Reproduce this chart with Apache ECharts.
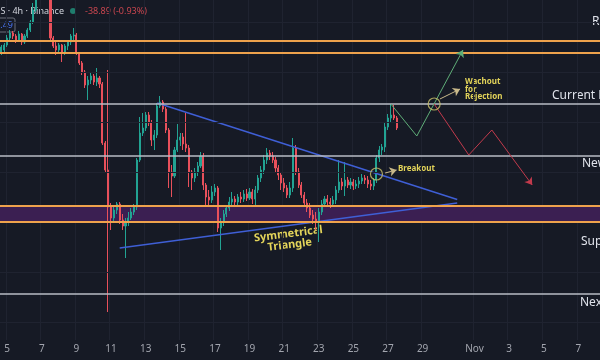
<!DOCTYPE html>
<html><head><meta charset="utf-8">
<script src="https://cdn.jsdelivr.net/npm/echarts@6/dist/echarts.min.js"></script>
<style>html,body{margin:0;padding:0;background:#161a25;}#chart{width:600px;height:360px;}</style>
</head><body><div id="chart"></div>
<script>
// ---- data (4h candles) ----
const opens = [4476,4488,4508,4536,4556,4544,4528,4552,4520,4544,
4568,4600,4648,4728,4788,4768,4808,4748,4536,4504,
4488,4508,4480,4504,4520,4544,4548,4476,4436,4400,
4348,4368,4384,4360,4376,4352,4116,4008,3860,3816,
3848,3872,3808,3784,3800,3816,3840,3860,4048,4156,
4176,4228,4196,4128,4148,4264,4280,4252,4168,4000,
3984,4088,4128,4140,4112,4096,4000,3976,4000,4024,
4064,3948,3900,3888,3920,3936,3776,3800,3832,3856,
3880,3892,3880,3900,3892,3912,3896,3920,3892,3928,
3976,4008,4048,4076,4064,4048,4016,3988,3956,3936,
3908,3936,4096,4000,3948,3908,3876,3856,3828,3812,
3800,3840,3872,3892,3880,3872,3888,3928,3960,3944,
3968,3948,3960,3944,3952,3964,3976,3968,3952,3944,
3968,4056,4088,4100,4180,4216,4228,4216];
const closes = [4500,4508,4536,4556,4544,4528,4552,4520,4544,4568,
4600,4648,4728,4788,4768,4808,4748,4536,4504,4488,
4508,4480,4504,4520,4544,4548,4476,4436,4400,4348,
4368,4384,4360,4376,4352,4116,4008,3860,3816,3848,
3872,3808,3784,3800,3816,3840,3860,4048,4156,4176,
4228,4196,4128,4148,4264,4280,4252,4168,4000,3984,
4088,4128,4140,4112,4096,4000,3976,4000,4024,4064,
3948,3900,3888,3920,3936,3776,3800,3832,3856,3880,
3892,3880,3900,3892,3912,3896,3920,3892,3928,3976,
4008,4048,4076,4064,4048,4016,3988,3956,3936,3908,
3936,4096,4000,3948,3908,3876,3856,3828,3812,3800,
3840,3872,3892,3880,3872,3888,3928,3960,3944,3968,
3948,3960,3944,3952,3964,3976,3968,3952,3944,3968,
4056,4088,4100,4180,4216,4228,4216,4176];
const highs = [4508,4516,4548,4568,4564,4552,4564,4556,4552,4576,
4608,4676,4768,4828,4848,4868,4848,4768,4544,4520,
4516,4512,4512,4528,4552,4576,4556,4480,4444,4408,
4384,4400,4392,4416,4384,4360,4124,4408,3876,3864,
3880,3880,3832,3816,3840,3856,3872,4056,4220,4236,
4240,4240,4208,4168,4276,4304,4288,4260,4176,4028,
4100,4192,4156,4156,4236,4108,4008,4016,4040,4080,
4076,3956,3928,3944,3952,3944,3816,3848,3868,3900,
3920,3904,3912,3920,3928,3932,3936,3932,3944,3988,
4024,4068,4096,4088,4080,4060,4028,4000,3976,3948,
3960,4136,4108,4016,3960,3920,3892,3876,3848,3840,
3856,3888,3904,3908,3896,3904,3944,4048,3976,4040,
3980,3976,3972,3968,3980,3992,3988,3984,3968,3976,
4068,4104,4112,4196,4232,4272,4268,4224];
const lows = [4468,4480,4500,4528,4532,4516,4520,4508,4512,4536,
4560,4592,4640,4708,4728,4736,4708,4528,4496,4468,
4472,4440,4468,4488,4508,4528,4468,4428,4388,4336,
4288,4352,4348,4344,4336,4108,4000,3440,3768,3800,
3832,3792,3768,3656,3784,3808,3828,3848,4040,4144,
4164,4184,4104,4088,4136,4256,4240,4156,3936,3900,
3976,4080,4104,4088,4080,3940,3928,3960,3984,4016,
3928,3868,3864,3876,3904,3760,3688,3784,3820,3844,
3868,3864,3868,3876,3880,3884,3888,3872,3860,3916,
3960,3992,4032,4048,4036,4000,3968,3928,3920,3896,
3896,3920,3988,3936,3896,3864,3840,3816,3792,3768,
3720,3828,3860,3864,3856,3864,3872,3916,3928,3904,
3936,3932,3928,3932,3936,3952,3952,3936,3928,3928,
3956,4040,4068,4080,4168,4200,4208,4168];

// key levels
const resistanceLines = [4524, 4476];
const currentResistance = 4272;
const newSupport = 4064;
const supportZone = [3800, 3864];
const nextSupport = 3512;
const gridPrices = [3400,3600,3800,4000,4200,4400,4600];

// triangle & projections: [candle index, price]
const triUpper = [[54, 4276], [158, 3890]];
const triLower = [[41, 3696], [158, 3876]];
const bullPath = [[135, 4272], [144, 4144], [160, 4488]];
const bearPath = [[150, 4272], [162, 4068], [170, 4168], [184, 3948]];
const circles = [[130, 3992], [150, 4272]];
const watchArrow = [[152, 4292], [159, 4332]];
const breakArrow = [[133, 3996], [137, 4008]];

// time axis
const tickDates = ['10-05','10-07','10-09','10-11','10-13','10-15','10-17','10-19','10-21','10-23','10-25','10-27','10-29','11-01','11-03','11-05','11-07'];
const tickText  = ['5','7','9','11','13','15','17','19','21','23','25','27','29','Nov','3','5','7'];
const nSlots = 208;
const categories = [];
const t0 = Date.UTC(2025, 9, 4, 16);
for (let i = 0; i < nSlots; i++) {
  const d = new Date(t0 + i * 4 * 3600 * 1000);
  const p = n => String(n).padStart(2, '0');
  categories.push(p(d.getUTCMonth() + 1) + '-' + p(d.getUTCDate()) + ' ' + p(d.getUTCHours()) + ':00');
}
const isTick = (idx, val) => val.endsWith('00:00') && tickDates.indexOf(val.slice(0, 5)) >= 0;

const candles = opens.map((o, i) => [o, closes[i], lows[i], highs[i]]);

const up = '#22a393', down = '#e8505b';
const chart = echarts.init(document.getElementById('chart'));

function seg(points, color, width, arrow) {
  const out = [];
  for (let i = 0; i < points.length - 1; i++) {
    const last = i === points.length - 2;
    const ls = { color: color, width: width, type: 'solid' };
    out.push([
      { coord: points[i], symbol: 'none', lineStyle: ls },
      { coord: points[i + 1], symbol: (last && arrow) ? 'arrow' : 'none', lineStyle: ls }
    ]);
  }
  return out;
}

const font = 'Noto Sans';
const option = {
  backgroundColor: '#161a25',
  animation: false,
  textStyle: { fontFamily: font },
  grid: { left: 0, right: 0, top: 0, bottom: 20 },
  xAxis: {
    type: 'category', data: categories, boundaryGap: true,
    axisLine: { show: false }, axisTick: { show: false },
    axisLabel: { interval: isTick, formatter: v => tickText[tickDates.indexOf(v.slice(0, 5))], color: '#a3a6af', fontSize: 10, margin: 4 },
    splitLine: { show: true, interval: isTick, lineStyle: { color: '#1f2330', width: 1 } }
  },
  yAxis: { type: 'value', min: 3328, max: 4688, show: false, splitLine: { show: false } },
  series: [
    { type: 'line', data: [], z: 1, silent: true,
      markLine: { silent: true, symbol: 'none', label: { show: false }, lineStyle: { color: '#1f2330', width: 1, type: 'solid' },
        data: gridPrices.map(v => ({ yAxis: v })) },
      markArea: { silent: true, itemStyle: { color: '#3b1f52' }, data: [[{ yAxis: supportZone[0] }, { yAxis: supportZone[1] }]] } },
    { type: 'candlestick', data: candles, z: 2, barWidth: 1.6,
      itemStyle: { color: up, color0: down, borderColor: up, borderColor0: down, borderWidth: 1 } },
    { type: 'line', data: [], z: 3, silent: true,
      markLine: { silent: true, symbol: 'none', label: { show: false },
        data: [
          { yAxis: resistanceLines[0], lineStyle: { color: '#eea24c', width: 2, type: 'solid' } },
          { yAxis: resistanceLines[1], lineStyle: { color: '#eea24c', width: 2, type: 'solid' } },
          { yAxis: currentResistance, lineStyle: { color: '#b9bcc4', width: 1.5, type: 'solid' } },
          { yAxis: newSupport, lineStyle: { color: '#b9bcc4', width: 1.5, type: 'solid' } },
          { yAxis: supportZone[0], lineStyle: { color: '#eea24c', width: 2, type: 'solid' } },
          { yAxis: supportZone[1], lineStyle: { color: '#eea24c', width: 2, type: 'solid' } },
          { yAxis: nextSupport, lineStyle: { color: '#b9bcc4', width: 1.5, type: 'solid' } }
        ] } },
    { type: 'line', data: triUpper, z: 4, symbol: 'none', silent: true, lineStyle: { color: '#3f5fd6', width: 1.5 } },
    { type: 'line', data: triLower, z: 4, symbol: 'none', silent: true, lineStyle: { color: '#3f5fd6', width: 1.5 } },
    { type: 'line', data: [], z: 5, silent: true,
      markLine: { silent: true, symbol: ['none', 'none'], symbolSize: 7, label: { show: false },
        lineStyle: { type: 'solid' },
        data: [].concat(seg(bullPath, '#5fae78', 1, true), seg(bearPath, '#c23a4c', 1, true),
                        seg(watchArrow, '#c9b98a', 1, true), seg(breakArrow, '#c9b98a', 1, true)) } },
    { type: 'scatter', data: circles, z: 6, silent: true, symbol: 'circle', symbolSize: 12,
      itemStyle: { color: 'rgba(0,0,0,0)', borderColor: '#cdc36a', borderWidth: 1.2 } }
  ],
  graphic: [
    { type: 'text', x: 64, y: 11, style: { text: 'Ethereum / TetherUS · 4h · Binance', align: 'right', verticalAlign: 'middle', fill: '#d1d4dc', font: '9px "Noto Sans"' } },
    { type: 'circle', shape: { cx: 73, cy: 11, r: 3 }, style: { fill: '#1f7d6d' } },
    { type: 'text', x: 85, y: 11, style: { text: '-38.89 (-0.93%)', verticalAlign: 'middle', fill: '#c9464f', font: '9px "Noto Sans"' } },
    { type: 'rect', shape: { x: -4, y: 18, width: 19, height: 14, r: 2 }, style: { fill: '#161a25', stroke: '#6a6e7a', lineWidth: 1 } },
    { type: 'text', x: 13, y: 25, style: { text: '.49', align: 'right', verticalAlign: 'middle', fill: '#4a74f0', font: '9px "Noto Sans"' } },
    { type: 'text', x: 592, y: 22, style: { text: 'Resistance', verticalAlign: 'middle', fill: '#e0e3eb', font: '12px "Noto Sans"' } },
    { type: 'text', x: 552, y: 96, style: { text: 'Current Resistance', verticalAlign: 'middle', fill: '#e0e3eb', font: '12px "Noto Sans"' } },
    { type: 'text', x: 582, y: 164, style: { text: 'New Support', verticalAlign: 'middle', fill: '#e0e3eb', font: '12px "Noto Sans"' } },
    { type: 'text', x: 581, y: 242, style: { text: 'Support', verticalAlign: 'middle', fill: '#e0e3eb', font: '12px "Noto Sans"' } },
    { type: 'text', x: 580, y: 303, style: { text: 'Next Support', verticalAlign: 'middle', fill: '#e0e3eb', font: '12px "Noto Sans"' } },
    { type: 'text', x: 465, y: 82, style: { text: 'Wachout', verticalAlign: 'middle', fill: '#e3d45a', font: 'bold 8px "Noto Sans"' } },
    { type: 'text', x: 465, y: 89.5, style: { text: 'for', verticalAlign: 'middle', fill: '#e3d45a', font: 'bold 8px "Noto Sans"' } },
    { type: 'text', x: 465, y: 97, style: { text: 'Rejection', verticalAlign: 'middle', fill: '#e3d45a', font: 'bold 8px "Noto Sans"' } },
    { type: 'text', x: 398, y: 169, style: { text: 'Breakout', verticalAlign: 'middle', fill: '#e3d45a', font: 'bold 8px "Noto Sans"' } },
    { type: 'group', x: 289, y: 239, rotation: 0.125, children: [
      { type: 'text', x: 0, y: -5, style: { text: 'Symmetrical', align: 'center', verticalAlign: 'middle', fill: '#e3d45a', font: 'bold 11px "Noto Sans"' } },
      { type: 'text', x: 0, y: 6, style: { text: 'Triangle', align: 'center', verticalAlign: 'middle', fill: '#e3d45a', font: 'bold 11px "Noto Sans"' } }
    ] }
  ]
};
chart.setOption(option);
</script></body></html>
